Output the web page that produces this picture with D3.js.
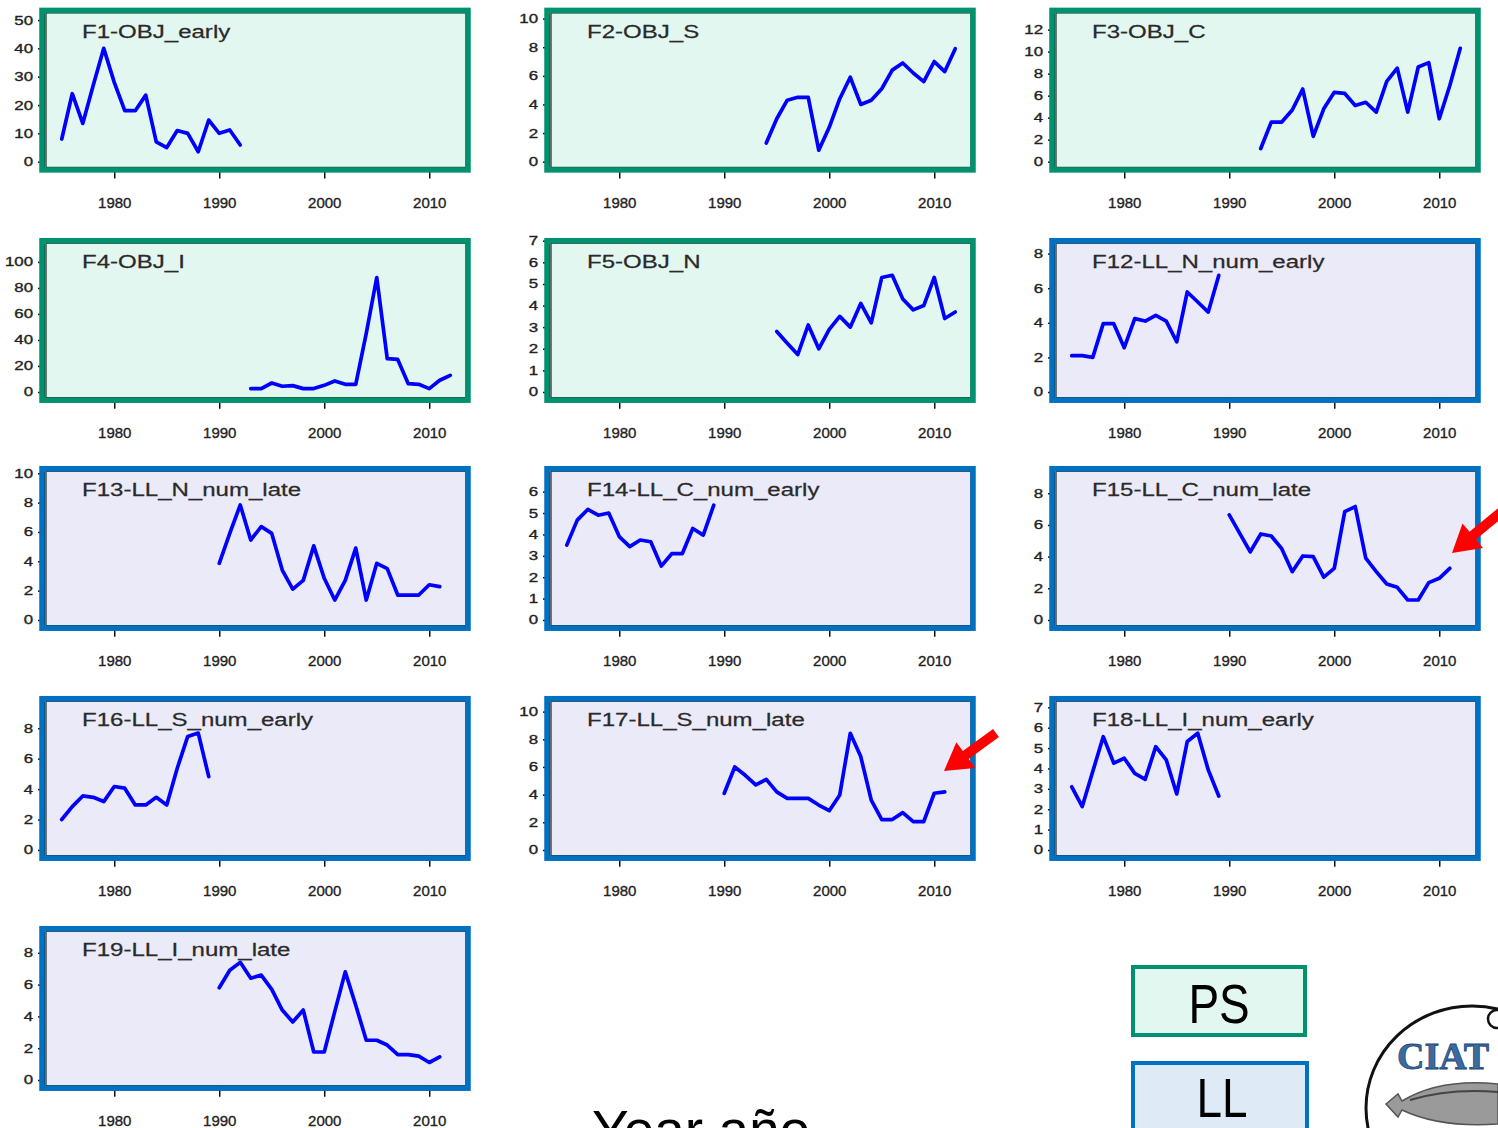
<!DOCTYPE html>
<html><head><meta charset="utf-8">
<script src="https://cdn.jsdelivr.net/npm/d3@7"></script>
<style>html,body{margin:0;padding:0;background:#fff;overflow:hidden}</style>
</head><body>
<svg id="chart" width="1498" height="1128"></svg>
<script>
// ---------------- data ----------------
const panelTitles = ["F1-OBJ_early","F2-OBJ_S","F3-OBJ_C","F4-OBJ_I","F5-OBJ_N",
  "F12-LL_N_num_early","F13-LL_N_num_late","F14-LL_C_num_early","F15-LL_C_num_late",
  "F16-LL_S_num_early","F17-LL_S_num_late","F18-LL_I_num_early","F19-LL_I_num_late"];
const panelFleet = ["PS","PS","PS","PS","PS","LL","LL","LL","LL","LL","LL","LL","LL"];
const startYears = [1975,1994,1993,1993,1995,1975,1990,1975,1990,1975,1990,1975,1990];
const yMax = [50.5,10,13,110,6.62,8.27,9.75,6.69,9.03,9.4,10.34,7.02,9.0];
const yTicks = [
  [0,10,20,30,40,50],[0,2,4,6,8,10],[0,2,4,6,8,10,12],[0,20,40,60,80,100],[0,1,2,3,4,5,6,7],
  [0,2,4,6,8],[0,2,4,6,8,10],[0,1,2,3,4,5,6],[0,2,4,6,8],[0,2,4,6,8],[0,2,4,6,8,10],
  [0,1,2,3,4,5,6,7],[0,2,4,6,8]];
const xTickYears = [1980,1990,2000,2010];
const xDomain = [1973.5, 2013.5];

const f1  = [8,24,13.5,27,40,28,18,18,23.5,7,5,11,10,3.5,14.7,10,11.2,5.9];
const f2  = [1.3,3.0,4.3,4.5,4.5,0.8,2.4,4.4,5.9,4.0,4.3,5.1,6.4,6.9,6.2,5.6,7.0,6.3,7.9];
const f3  = [1.2,3.6,3.6,4.7,6.6,2.3,4.8,6.3,6.2,5.1,5.4,4.5,7.3,8.5,4.5,8.6,9.0,3.9,6.9,10.3];
const f4  = [2.6,2.6,6.9,4.4,4.9,2.6,2.6,5.1,8.5,5.9,5.9,45,88,25.6,25,6.4,5.9,2.6,9,12.8];
const f5  = [2.8,2.26,1.73,3.1,2.0,2.9,3.5,3.0,4.1,3.2,5.3,5.4,4.3,3.8,4.0,5.3,3.4,3.7];
const f12 = [2.1,2.1,2.0,3.95,3.95,2.56,4.24,4.1,4.43,4.1,2.9,5.78,5.2,4.62,6.74];
const f13 = [3.86,5.9,7.84,5.45,6.36,5.9,3.4,2.1,2.7,5.05,2.84,1.36,2.7,4.9,1.36,3.86,3.5,1.7,1.7,1.7,2.4,2.27];
const f14 = [3.5,4.67,5.17,4.9,5.0,3.9,3.43,3.74,3.66,2.52,3.1,3.1,4.28,3.97,5.37];
const f15 = [6.63,5.47,4.3,5.43,5.3,4.5,3.05,4.04,4.0,2.7,3.26,6.84,7.16,3.9,3.05,2.27,2.06,1.26,1.26,2.36,2.63,3.26];
const f16 = [2.0,2.85,3.55,3.46,3.18,4.17,4.06,2.96,2.96,3.46,2.96,5.37,7.46,7.68,4.82];
const f17 = [4.1,6.0,5.4,4.7,5.1,4.2,3.73,3.73,3.73,3.25,2.84,3.98,8.43,6.75,3.6,2.2,2.2,2.7,2.05,2.05,4.1,4.2];
const f18 = [3.1,2.13,3.85,5.56,4.26,4.5,3.76,3.47,5.07,4.42,2.75,5.32,5.73,3.93,2.65];
const f19 = [5.8,6.9,7.4,6.4,6.6,5.7,4.4,3.65,4.4,1.76,1.76,4.3,6.8,4.7,2.5,2.5,2.2,1.6,1.6,1.5,1.1,1.45];
const seriesValues = [f1,f2,f3,f4,f5,f12,f13,f14,f15,f16,f17,f18,f19];

const legendLabels = ["PS","LL"];
const axisTitle = "Year año";
const logoText = "CIAT";

// ---------------- layout / style ----------------
const svg = d3.select("#chart");
const colX = [0, 505, 1010];
const rowBottom = [167.4, 397.7, 625.7, 855.7, 1085.7];
const plotH = 154.5, plotLeft = 46, plotW = 420;
const style = {
  PS: {fill: "#E3F7F1", stroke: "#00926E"},
  LL: {fill: "#EBEAF8", stroke: "#0070C0"}
};
const font = "'Liberation Sans', Arial, sans-serif";

seriesValues.forEach((vals, i) => {
  const col = i % 3, row = Math.floor(i / 3);
  const x0 = colX[col] + plotLeft, x1 = x0 + plotW;
  const B = rowBottom[row], T = B - plotH;
  const st = style[panelFleet[i]];
  const M = yMax[i];
  const x = d3.scaleLinear().domain(xDomain).range([x0, x1]);
  const y = d3.scaleLinear().domain([-0.04 * M, 1.04 * M]).range([B, T]);
  const g = svg.append("g");

  // background
  g.append("rect").attr("x", x0 - 4).attr("y", T - 2.5).attr("width", plotW + 6).attr("height", plotH + 5)
    .attr("fill", st.fill);

  // x axis
  const xa = g.append("g").attr("transform", `translate(0,${B})`)
    .call(d3.axisBottom(x).tickValues(xTickYears).tickFormat(d3.format("d")).tickSize(11).tickSizeOuter(0));
  xa.select(".domain").remove();
  xa.selectAll("line").attr("stroke", "#111").attr("stroke-width", 1.5);
  xa.selectAll("text").attr("y", 40.5).attr("dy", null)
    .attr("font-family", font).attr("font-size", 15).attr("fill", "#222")
    .attr("stroke", "#222").attr("stroke-width", 0.35);

  // y axis
  const sx = 1.35;
  const ya = g.append("g").attr("transform", `translate(${x0 - 2},0)`)
    .call(d3.axisLeft(y).tickValues(yTicks[i]).tickSize(6).tickSizeOuter(0));
  ya.select(".domain").attr("stroke", "#111").attr("stroke-width", 1.2);
  ya.selectAll("line").attr("stroke", "#111").attr("stroke-width", 1.5);
  ya.selectAll("text").attr("x", -11 / sx).attr("transform", `scale(${sx},1)`)
    .attr("font-family", font).attr("font-size", 12.5).attr("fill", "#222")
    .attr("stroke", "#222").attr("stroke-width", 0.35);

  // plot frame
  g.append("rect").attr("x", x0).attr("y", T).attr("width", plotW).attr("height", plotH)
    .attr("fill", "none").attr("stroke", "#222").attr("stroke-width", 1.2);

  // series
  const years = vals.map((v, k) => startYears[i] + k);
  const line = d3.line().x((d, k) => x(years[k])).y(d => y(d));
  g.append("path").datum(vals).attr("d", line).attr("fill", "none")
    .attr("stroke", "#0000FF").attr("stroke-width", 3.7)
    .attr("stroke-linejoin", "round").attr("stroke-linecap", "round");

  // coloured border
  g.append("rect").attr("x", x0 - 4).attr("y", T - 2.5).attr("width", plotW + 6).attr("height", plotH + 5)
    .attr("fill", "none").attr("stroke", st.stroke).attr("stroke-width", 5.5);

  // title
  g.append("text").attr("transform", `translate(${x0 + 36},${T + 25}) scale(1.3,1)`)
    .attr("font-family", font).attr("font-size", 18.5).attr("fill", "#2a2a2a")
    .attr("stroke", "#2a2a2a").attr("stroke-width", 0.25).text(panelTitles[i]);
});

// ---------------- legend ----------------
const legendBoxes = [
  {x: 1133, y: 967, w: 172, h: 68, tx: 1219, ty: 1023},
  {x: 1133, y: 1063, w: 174, h: 80, tx: 1222, ty: 1117}
];
legendLabels.forEach((lab, k) => {
  const b = legendBoxes[k];
  svg.append("rect").attr("x", b.x).attr("y", b.y).attr("width", b.w).attr("height", b.h)
    .attr("fill", lab === "PS" ? "#E3F7F1" : "#DEEBF7")
    .attr("stroke", lab === "PS" ? "#00926E" : "#0070C0").attr("stroke-width", 4);
  svg.append("text").attr("transform", `translate(${b.tx},${b.ty}) scale(0.82,1)`)
    .attr("text-anchor", "middle").attr("font-family", font).attr("font-size", 56).attr("fill", "#000").text(lab);
});

// axis title (clipped at the bottom edge, as in the reference)
svg.append("text").attr("x", 592).attr("y", 1149).attr("font-family", font).attr("font-size", 55)
  .attr("fill", "#000").text(axisTitle);

// ---------------- logo ----------------
svg.append("ellipse").attr("cx", 1472).attr("cy", 1108).attr("rx", 106).attr("ry", 102)
  .attr("fill", "#fff").attr("stroke", "#111").attr("stroke-width", 3);
svg.append("circle").attr("cx", 1497).attr("cy", 1019).attr("r", 9)
  .attr("fill", "#fff").attr("stroke", "#111").attr("stroke-width", 2.5);
svg.append("path")
  .attr("d", "M1386,1104 L1398,1094 L1402,1101 Q1440,1078 1498,1084 L1498,1124 Q1440,1128 1402,1110 L1398,1117 Z")
  .attr("fill", "#9a9a9a").attr("stroke", "#555").attr("stroke-width", 1.5);
svg.append("path").attr("d", "M1410,1100 Q1450,1088 1498,1092").attr("fill", "none")
  .attr("stroke", "#444").attr("stroke-width", 2);
svg.append("text").attr("x", 1397).attr("y", 1069).attr("font-family", "'Liberation Serif', 'Times New Roman', serif")
  .attr("font-weight", "bold").attr("font-size", 38).attr("fill", "#3A6CA3").attr("stroke", "#1E4673")
  .attr("stroke-width", 0.8).text(logoText);

// ---------------- red arrows ----------------
function arrowPts(tip, tail, sw, hl, hw) {
  const dx = tail[0] - tip[0], dy = tail[1] - tip[1], L = Math.hypot(dx, dy);
  const ux = dx / L, uy = dy / L, px = -uy, py = ux;
  const bx = tip[0] + ux * hl, by = tip[1] + uy * hl;
  return [tip, [bx + px * hw / 2, by + py * hw / 2], [bx + px * sw / 2, by + py * sw / 2],
    [tail[0] + px * sw / 2, tail[1] + py * sw / 2], [tail[0] - px * sw / 2, tail[1] - py * sw / 2],
    [bx - px * sw / 2, by - py * sw / 2], [bx - px * hw / 2, by - py * hw / 2]];
}
[[[1452, 553], [1512, 503]], [[944, 771], [996, 733]]].forEach(a => {
  svg.append("polygon").attr("points", arrowPts(a[0], a[1], 10, 27, 32).map(p => p.join(",")).join(" "))
    .attr("fill", "#FF0000");
});
</script>
</body></html>
